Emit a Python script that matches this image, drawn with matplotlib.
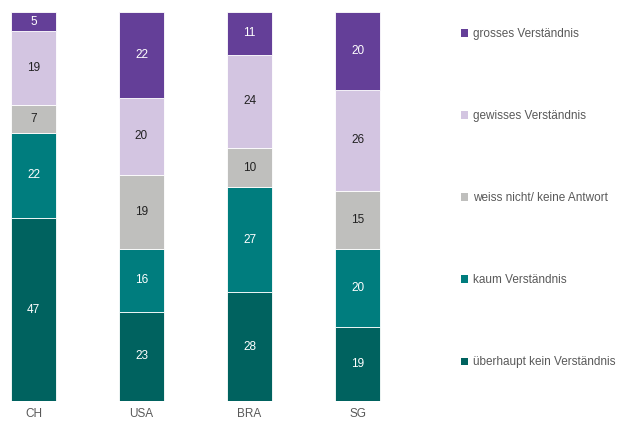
import matplotlib.pyplot as plt
from matplotlib.patches import Patch

plt.rcParams['font.family'] = ['Liberation Sans', 'DejaVu Sans']

countries = ['CH', 'USA', 'BRA', 'SG']
series_names = ['überhaupt kein Verständnis', 'kaum Verständnis',
                'weiss nicht/ keine Antwort', 'gewisses Verständnis',
                'grosses Verständnis']
kein = [47, 23, 28, 19]
kaum = [22, 16, 27, 20]
weiss_nicht = [7, 19, 10, 15]
gewisses = [19, 20, 24, 26]
grosses = [5, 22, 11, 20]

colors = ['#00625F', '#007D7E', '#BFBFBD', '#D3C5E1', '#643F98']
text_colors = ['white', 'white', '#222222', '#222222', 'white']

fig = plt.figure(figsize=(6.29, 4.21), dpi=100)
ax = fig.add_axes([0, 1 - 401 / 421, 391 / 629, 389 / 421])

x = list(range(len(countries)))
bottom = [0] * len(countries)
for vals, col, tc in zip([kein, kaum, weiss_nicht, gewisses, grosses], colors, text_colors):
    bars = ax.bar(x, vals, bottom=bottom, width=0.41, color=col,
                  edgecolor='white', linewidth=0.6)
    for i, b in enumerate(bars):
        ax.text(b.get_x() + b.get_width() / 2, bottom[i] + vals[i] / 2, str(vals[i]),
                ha='center', va='center', fontsize=8.5, color=tc)
    bottom = [bb + v for bb, v in zip(bottom, vals)]

ax.set_xlim(-0.31, 3.31)
ax.set_ylim(0, 100)
ax.set_xticks(x)
ax.set_xticklabels(countries, fontsize=8.5, color='#595959')
ax.tick_params(axis='x', length=0, pad=5)
ax.set_yticks([])
for s in ax.spines.values():
    s.set_visible(False)

handles = [Patch(facecolor=c) for c in colors][::-1]
fig.legend(handles, series_names[::-1], loc='upper left',
           bbox_to_anchor=(461 / 629, 1 - 28 / 421), frameon=False,
           fontsize=8.5, labelcolor='#595959', handlelength=0.6, handleheight=0.6,
           handletextpad=0.45, labelspacing=5.94, borderpad=0, borderaxespad=0)

fig.savefig('out.png', dpi=100)
